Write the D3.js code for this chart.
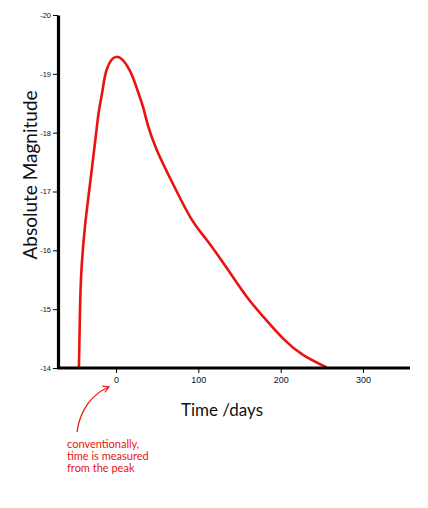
<!DOCTYPE html>
<html>
<head>
<meta charset="utf-8">
<script src="https://cdn.jsdelivr.net/npm/d3@7"></script>
<style>
  html, body { margin: 0; padding: 0; background: #fff; }
  svg { display: block; font-family: Lato, "Open Sans", sans-serif; }
</style>
</head>
<body>
<div id="chart"></div>
<script>
// Light curve (days since peak, absolute magnitude)
const days = [-45, -43.7, -41.7, -37.7, -32.4, -24.7, -20.6, -16.2, -11.3, 0.9, 16.2, 25.9, 33.2, 38.9, 49.4, 65.6, 90, 110, 134.5, 158.8, 179, 203, 227.5, 256];
const mags = [-14.0, -14.99, -15.72, -16.40, -17.03, -17.92, -18.38, -18.73, -19.07, -19.29, -19.07, -18.73, -18.42, -18.12, -17.71, -17.23, -16.57, -16.18, -15.70, -15.21, -14.87, -14.50, -14.22, -14.01];

const xTicks = [0, 100, 200, 300];
const yTicks = [-20, -19, -18, -17, -16, -15, -14];
const noteLines = ['conventionally,', 'time is measured', 'from the peak'];

const W = 428, H = 508;
const red = '#e8140f';

const svg = d3.select('#chart').append('svg')
    .attr('width', W)
    .attr('height', H);

const x = d3.scaleLinear().domain([-70.4, 357]).range([58, 410]);
const y = d3.scaleLinear().domain([-20, -14]).range([15, 368]);

// ── curve ──
const line = d3.line()
    .x((d, i) => x(days[i]))
    .y((d, i) => y(mags[i]))
    .curve(d3.curveNatural);

svg.append('path')
    .datum(days)
    .attr('d', line)
    .attr('fill', 'none')
    .attr('stroke', red)
    .attr('stroke-width', 2.6)
    .attr('stroke-linejoin', 'round');

// ── axes ──
const xAxis = svg.append('g')
    .attr('transform', `translate(0,${y(-14)})`)
    .call(d3.axisBottom(x).tickValues(xTicks).tickSize(5).tickPadding(4).tickSizeOuter(0));
xAxis.select('.domain').attr('stroke-width', 3.2).attr('d', `M${x(-70.4) - 1},0H${x(357)}`);
xAxis.selectAll('.tick line').attr('stroke-width', 1);
xAxis.selectAll('.tick text').attr('font-size', 9).attr('fill', '#111');

const yAxis = svg.append('g')
    .attr('transform', `translate(${x(-70.4)},0)`)
    .call(d3.axisLeft(y).tickValues(yTicks).tickSize(5).tickPadding(2).tickSizeOuter(0)
        .tickFormat(d => '-' + Math.abs(d)));
yAxis.select('.domain').attr('stroke-width', 3.2);
yAxis.selectAll('.tick line').attr('stroke-width', 1);
yAxis.selectAll('.tick text').attr('font-size', 7.5).attr('fill', '#111');

// ── axis titles ──
svg.append('text')
    .attr('transform', `translate(37,${175}) rotate(-90)`)
    .attr('text-anchor', 'middle')
    .attr('font-size', 19)
    .attr('fill', '#111')
    .text('Absolute Magnitude');

svg.append('text')
    .attr('x', 222)
    .attr('y', 416)
    .attr('text-anchor', 'middle')
    .attr('font-size', 17)
    .attr('fill', '#111')
    .text('Time /days');

// ── annotation ──
svg.append('defs').append('marker')
    .attr('id', 'arrow')
    .attr('viewBox', '0 0 10 10')
    .attr('refX', 8).attr('refY', 5)
    .attr('markerWidth', 7).attr('markerHeight', 7)
    .attr('orient', 'auto')
  .append('path')
    .attr('d', 'M1,1L8,5L1,9')
    .attr('fill', 'none')
    .attr('stroke', red)
    .attr('stroke-width', 1.3);

svg.append('path')
    .attr('d', 'M77,432 C80,410 92,394 109,387')
    .attr('fill', 'none')
    .attr('stroke', red)
    .attr('stroke-width', 1.2)
    .attr('marker-end', 'url(#arrow)');

svg.append('g')
    .selectAll('text')
    .data(noteLines)
    .join('text')
    .attr('x', 67)
    .attr('y', (d, i) => 448 + i * 12)
    .attr('font-size', 11)
    .attr('fill', red)
    .text(d => d);
</script>
</body>
</html>
